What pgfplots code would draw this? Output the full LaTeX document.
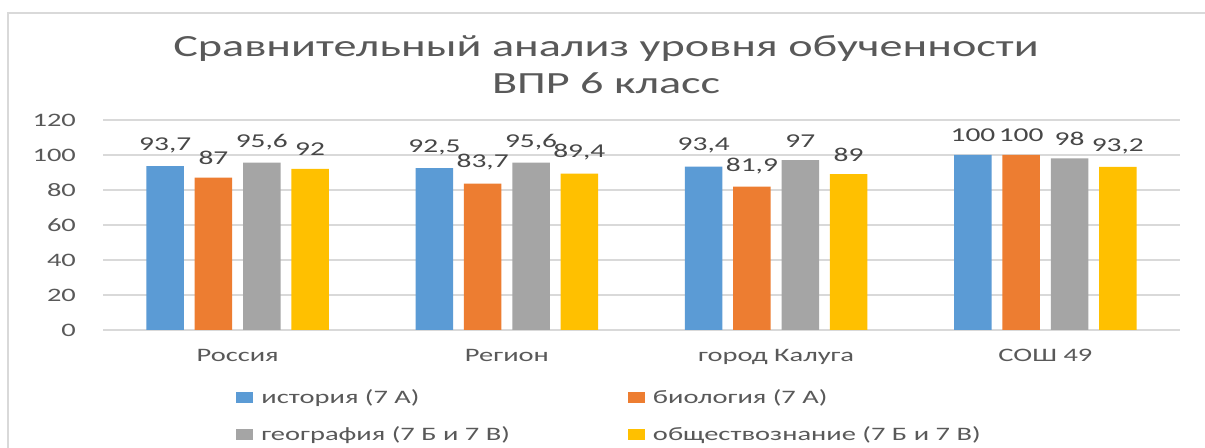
\documentclass[border=0pt]{standalone}
\usepackage{pgfplots}
\pgfplotsset{compat=1.18}
\usepackage{fontspec}
\setmainfont{Carlito}[FakeStretch=1.5]
\definecolor{cblue}{HTML}{5B9BD5}
\definecolor{corange}{HTML}{ED7D31}
\definecolor{cgrey}{HTML}{A5A5A5}
\definecolor{cyellow}{HTML}{FFC000}
\definecolor{gridc}{HTML}{D9D9D9}
\definecolor{txt}{HTML}{595959}
\begin{document}
\begin{tikzpicture}[x=1pt,y=1pt]
\useasboundingbox (0,0) rectangle (602.5,224);
\fill[white] (0,0) rectangle (602.5,224);
\draw[gridc,line width=1pt] (4,0) -- (4,217.5) -- (602.5,217.5);
\node[txt,font=\fontsize{15.4}{17}\selectfont,anchor=base] at (303,195.5) {Сравнительный анализ уровня обученности};
\node[txt,font=\fontsize{15.4}{17}\selectfont,anchor=base] at (303,177) {ВПР 6 класс};
\begin{axis}[
  at={(51.5pt,59pt)}, anchor=south west,
  scale only axis, width=538.5pt, height=105pt,
  xmin=-0.5, xmax=3.5, ymin=0, ymax=120,
  ytick={0,20,...,120},
  xtick={0,1,2,3},
  xticklabels={Россия,Регион,город Калуга,СОШ 49},
  axis x line*=bottom, axis y line*=left,
  x axis line style={gridc, line width=0.8pt},
  y axis line style={draw=none},
  ymajorgrids, grid style={gridc, line width=0.8pt},
  major tick length=0pt,
  tick label style={txt, font=\fontsize{9.5}{11}\selectfont},
  /pgf/number format/assume math mode=true,
  /pgf/number format/use comma,
  yticklabel style={xshift=-10pt},
  xticklabel style={yshift=-6pt},
  ybar, bar width=18.75pt,
  nodes near coords,
  every node near coord/.append style={text=txt!80!black, yshift=3pt, font=\fontsize{9.8}{11}\selectfont, /pgf/number format/assume math mode=true, /pgf/number format/use comma},
  legend columns=2,
  legend style={draw=none, fill=none, at={(0.1235,-0.262)}, anchor=north west, inner sep=0pt,
    font=\fontsize{9.5}{11}\selectfont, text=txt, row sep=6pt,
    nodes={inner xsep=4pt},
    /tikz/every even column/.append style={column sep=55pt}},
  legend cell align=left,
  legend image code/.code={\fill[#1] (0pt,-2.75pt) rectangle (8.5pt,2.75pt);},
]
\addplot[fill=cblue, draw=none, bar shift=-36.2pt] coordinates {(0,93.7) (1,92.5) (2,93.4) (3,100)};
\addplot[fill=corange, draw=none, bar shift=-12.1pt] coordinates {(0,87) (1,83.7) (2,81.9) (3,100)};
\addplot[fill=cgrey, draw=none, bar shift=12.1pt] coordinates {(0,95.6) (1,95.6) (2,97) (3,98)};
\addplot[fill=cyellow, draw=none, bar shift=36.2pt] coordinates {(0,92) (1,89.4) (2,89) (3,93.2)};
\legend{история (7 А), биология (7 А), география (7 Б и 7 В), обществознание (7 Б и 7 В)}
\end{axis}
\end{tikzpicture}
\end{document}
